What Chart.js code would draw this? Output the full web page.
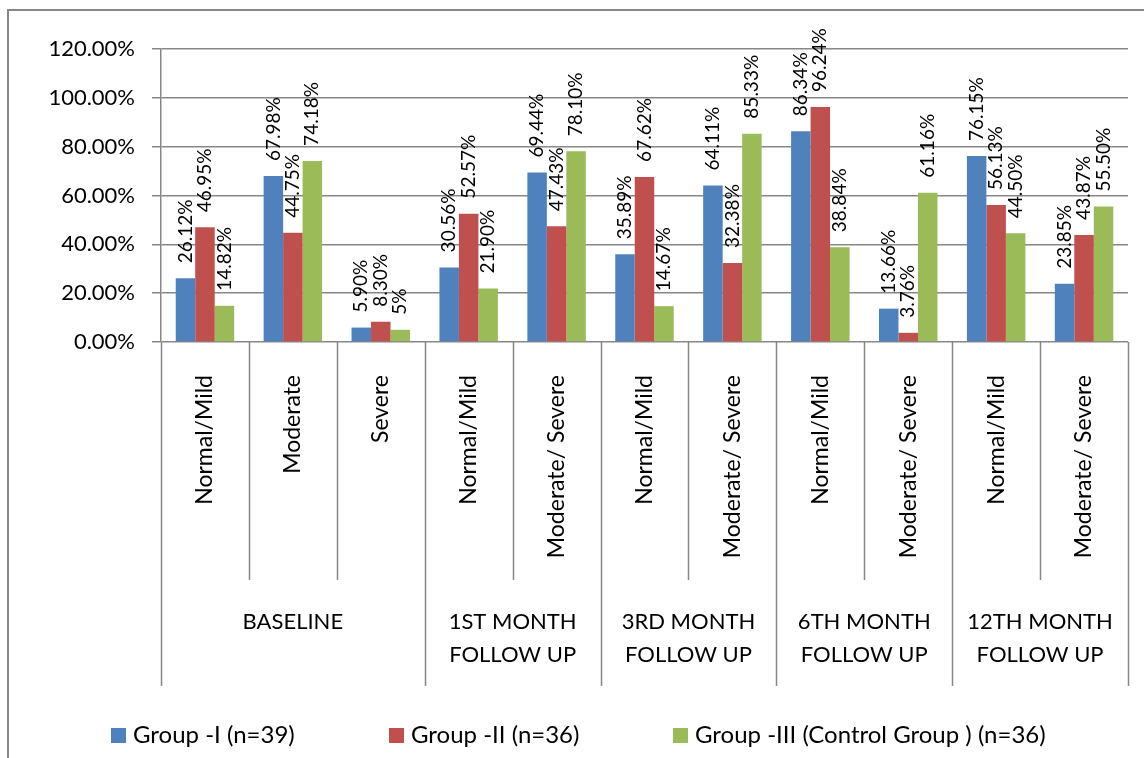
<!DOCTYPE html>
<html>
<head>
<meta charset="utf-8">
<script src="https://cdn.jsdelivr.net/npm/chart.js@4"></script>
<style>
  html, body { margin: 0; padding: 0; background: #fff; }
  #wrap { width: 1144px; height: 758px; }
</style>
</head>
<body>
<div id="wrap"><canvas id="chart"></canvas></div>
<script>
const categories = [
  "Normal/Mild", "Moderate", "Severe",
  "Normal/Mild", "Moderate/ Severe",
  "Normal/Mild", "Moderate/ Severe",
  "Normal/Mild", "Moderate/ Severe",
  "Normal/Mild", "Moderate/ Severe"
];
const periods = [
  ["BASELINE"],
  ["1ST MONTH", "FOLLOW UP"],
  ["3RD MONTH", "FOLLOW UP"],
  ["6TH MONTH", "FOLLOW UP"],
  ["12TH MONTH", "FOLLOW UP"]
];
const periodSizes = [3, 2, 2, 2, 2];

const group1 = [26.12, 67.98, 5.90, 30.56, 69.44, 35.89, 64.11, 86.34, 13.66, 76.15, 23.85];
const group2 = [46.95, 44.75, 8.30, 52.57, 47.43, 67.62, 32.38, 96.24, 3.76, 56.13, 43.87];
const group3 = [14.82, 74.18, 5, 21.90, 78.10, 14.67, 85.33, 38.84, 61.16, 44.50, 55.50];

const seriesNames = ["Group -I (n=39)", "Group -II (n=36)", "Group -III (Control Group ) (n=36)"];
const seriesColors = ["#4F81BD", "#C0504D", "#9BBB59"];

const FONT = "Lato, 'Open Sans', sans-serif";
const LINE = "#878787";

function pct(v) {
  return Number.isInteger(v) ? v + "%" : v.toFixed(2) + "%";
}

const valueLabels = {
  id: "valueLabels",
  afterDatasetsDraw(chart) {
    const ctx = chart.ctx;
    ctx.save();
    ctx.font = "19px " + FONT;
    ctx.fillStyle = "#000";
    ctx.textAlign = "left";
    ctx.textBaseline = "middle";
    chart.data.datasets.forEach((ds, di) => {
      chart.getDatasetMeta(di).data.forEach((bar, i) => {
        ctx.save();
        ctx.translate(bar.x, bar.y - 15);
        ctx.rotate(-Math.PI / 2);
        ctx.fillText(pct(ds.data[i]), 0, 0);
        ctx.restore();
      });
    });
    ctx.restore();
  }
};

const frame = {
  id: "frame",
  afterDraw(chart) {
    const ctx = chart.ctx;
    const area = chart.chartArea;
    const x = chart.scales.x;
    const n = categories.length;
    const step = (area.right - area.left) / n;
    ctx.save();
    ctx.strokeStyle = LINE;

    // outer border
    ctx.lineWidth = 2;
    ctx.beginPath();
    ctx.moveTo(8, 800);
    ctx.lineTo(8, 10);
    ctx.lineTo(1200, 10);
    ctx.stroke();

    // category / period separators below the axis
    ctx.lineWidth = 1.5;
    const bounds = [0];
    periodSizes.reduce((acc, s) => { bounds.push(acc + s); return acc + s; }, 0);
    for (let i = 0; i <= n; i++) {
      const px = Math.round(x.getPixelForValue(i) - step / 2) + 0.5;
      const isGroup = bounds.includes(i);
      ctx.beginPath();
      ctx.moveTo(px, area.bottom);
      ctx.lineTo(px, area.bottom + (isGroup ? 344 : 238));
      ctx.stroke();
    }

    // period labels
    ctx.fillStyle = "#000";
    ctx.font = "22px " + FONT;
    ctx.textAlign = "center";
    ctx.textBaseline = "middle";
    periods.forEach((lines, g) => {
      const a = x.getPixelForValue(bounds[g]) - step / 2;
      const b = x.getPixelForValue(bounds[g + 1] - 1) + step / 2;
      lines.forEach((t, li) => {
        ctx.fillText(t, (a + b) / 2, area.bottom + 280 + li * 33);
      });
    });

    // legend
    const legendX = [111, 389, 673];
    const legendY = 735;
    ctx.font = "24px " + FONT;
    ctx.textAlign = "left";
    seriesNames.forEach((name, i) => {
      ctx.fillStyle = seriesColors[i];
      ctx.fillRect(legendX[i], legendY - 7, 15, 15);
      ctx.fillStyle = "#000";
      ctx.fillText(name, legendX[i] + 22, legendY);
    });
    ctx.restore();
  }
};

new Chart(document.getElementById("chart"), {
  type: "bar",
  data: {
    labels: categories,
    datasets: [group1, group2, group3].map((d, i) => ({
      label: seriesNames[i],
      data: d,
      backgroundColor: seriesColors[i],
      categoryPercentage: 0.665,
      barPercentage: 1.0
    }))
  },
  options: {
    responsive: true,
    maintainAspectRatio: false,
    animation: false,
    layout: {
      padding: { top: 49, right: 16, left: 0, bottom: 0 }
    },
    plugins: {
      legend: { display: false },
      tooltip: { enabled: false }
    },
    scales: {
      x: {
        grid: { display: false },
        border: { display: false },
        ticks: {
          autoSkip: false,
          minRotation: 90,
          maxRotation: 90,
          padding: 25,
          color: "#000",
          font: { family: FONT, size: 23 }
        },
        afterFit(scale) { scale.height = 416; }
      },
      y: {
        min: 0,
        max: 120,
        ticks: {
          stepSize: 20,
          padding: 17,
          color: "#000",
          font: { family: FONT, size: 22 },
          callback: (v) => v.toFixed(2) + "%"
        },
        grid: { color: LINE, lineWidth: 1.5, tickLength: 9 },
        border: { display: true, color: LINE, width: 1.5 },
        afterFit(scale) { scale.width = 161; }
      }
    }
  },
  plugins: [valueLabels, frame]
});
</script>
</body>
</html>
